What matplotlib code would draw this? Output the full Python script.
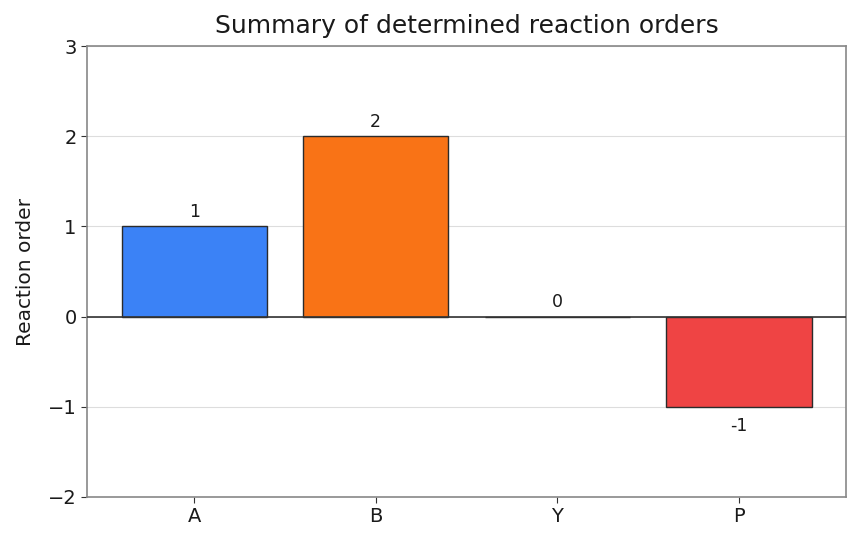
import matplotlib
matplotlib.use("Agg")
import matplotlib.pyplot as plt

species = ["A", "B", "Y", "P"]
orders = [1, 2, 0, -1]
colors = ["#3B82F6", "#F97316", "#22C55E", "#EF4444"]
yticks = [-2, -1, 0, 1, 2, 3]

fig = plt.figure(figsize=(8.6, 5.46), dpi=100)
ax = fig.add_axes([87/860, 1-497/546, (846-87)/860, (497-46)/546])

bars = ax.bar(species, orders, color=colors, edgecolor="#2b2b2b", linewidth=1.0, width=0.8, zorder=3)
ax.axhline(0, color="#333333", linewidth=1.2, zorder=4)
ax.set_ylim(-2, 3)
ax.set_yticks(yticks)
ax.set_yticklabels(["\u22122", "\u22121", "0", "1", "2", "3"])
ax.yaxis.grid(True, color="#dddddd", linewidth=0.8, zorder=0)
ax.set_axisbelow(True)
for s in ax.spines.values():
    s.set_color("#888888")
    s.set_linewidth(1.2)
ax.tick_params(axis="both", labelsize=14, color="#333333", length=4, labelcolor="#1a1a1a")
ax.set_ylabel("Reaction order", fontsize=14.5, labelpad=9, color="#1a1a1a")
ax.set_title("Summary of determined reaction orders", fontsize=18, pad=9.5, color="#1a1a1a")

for b, v in zip(bars, orders):
    x = b.get_x() + b.get_width() / 2
    if v >= 0:
        ax.annotate(str(v), (x, v), xytext=(0, 4), textcoords="offset points",
                    ha="center", va="bottom", fontsize=12.5, color="#1a1a1a")
    else:
        ax.annotate(str(v), (x, v), xytext=(0, -7), textcoords="offset points",
                    ha="center", va="top", fontsize=12.5, color="#1a1a1a")

fig.savefig("out.png", dpi=100)
